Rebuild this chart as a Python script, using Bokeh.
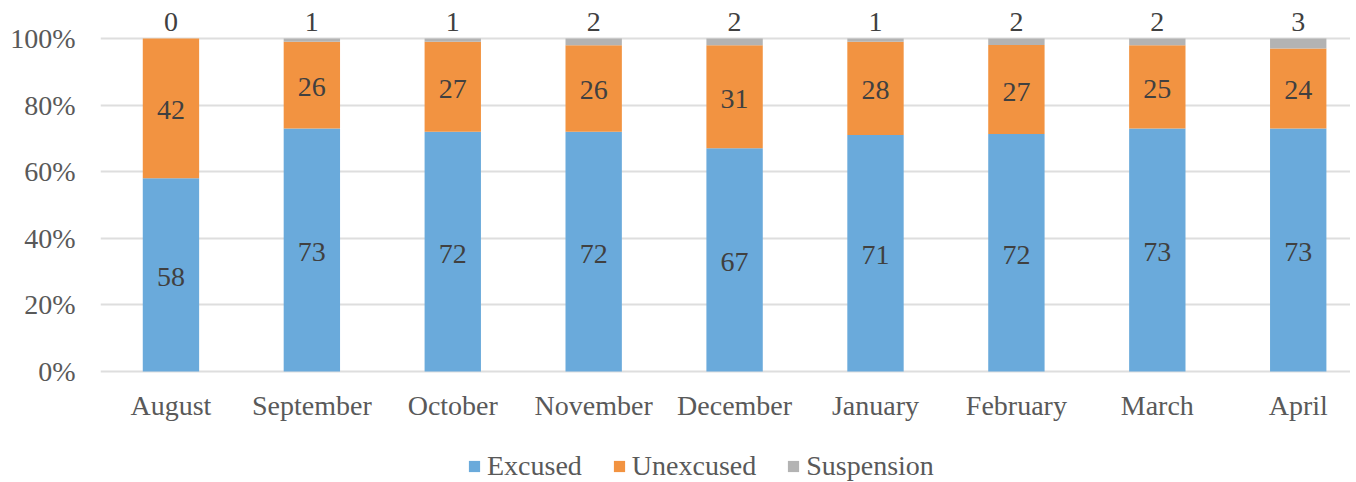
from bokeh.plotting import figure
from bokeh.models import ColumnDataSource, Range1d, FixedTicker, NumeralTickFormatter
from bokeh.core.properties import value
from bokeh.embed import file_html
from bokeh.resources import INLINE

months = ["August", "September", "October", "November", "December",
          "January", "February", "March", "April"]
excused = [58, 73, 72, 72, 67, 71, 72, 73, 73]
unexcused = [42, 26, 27, 26, 31, 28, 27, 25, 24]
suspension = [0, 1, 1, 2, 2, 1, 2, 2, 3]

BLUE = "#6aaadb"
ORANGE = "#f29341"
GRAY = "#b3b3b3"
FONT = "Liberation Serif"
FS = "28px"

xs = list(range(len(months)))
tot = [e + u + s for e, u, s in zip(excused, unexcused, suspension)]
e_top = [e / t for e, t in zip(excused, tot)]
u_top = [(e + u) / t for e, u, t in zip(excused, unexcused, tot)]
s_top = [1.0 for _ in tot]

src = ColumnDataSource(dict(
    x=xs, zero=[0] * len(xs), e_top=e_top, u_top=u_top, s_top=s_top,
    e_mid=[v / 2 for v in e_top],
    u_mid=[(a + b) / 2 for a, b in zip(e_top, u_top)],
    e_lab=[str(v) for v in excused],
    u_lab=[str(v) for v in unexcused],
    s_lab=[str(v) for v in suspension],
))

# frame runs from y=10 down to the bottom of the window; value 0 sits at y=371
p = figure(width=1350, frame_width=1250, frame_height=472,
           output_backend="svg",
           toolbar_location=None, x_range=Range1d(-0.5, 8.371),
           y_range=Range1d(-0.3333, 1.084),
           min_border_left=100, min_border_top=10, min_border_right=0,
           min_border_bottom=0)
p.outline_line_color = None
p.background_fill_color = "white"
p.border_fill_color = "white"

w = 0.4
p.vbar(x="x", bottom="zero", top="e_top", width=w, source=src,
       fill_color=BLUE, line_color=None, legend_label="Excused")
p.vbar(x="x", bottom="e_top", top="u_top", width=w, source=src,
       fill_color=ORANGE, line_color=None, legend_label="Unexcused")
p.vbar(x="x", bottom="u_top", top="s_top", width=w, source=src,
       fill_color=GRAY, line_color=None, legend_label="Suspension")

tk = dict(text_font=value(FONT), text_font_size=FS, text_color="#404040",
          text_align="center", text_baseline="middle")
p.text(x="x", y="e_mid", text="e_lab", source=src, y_offset=2, **tk)
p.text(x="x", y="u_mid", text="u_lab", source=src, y_offset=2, **tk)
p.text(x="x", y="s_top", text="s_lab", source=src, y_offset=-16, **tk)

p.xaxis.ticker = FixedTicker(ticks=xs)
p.xaxis.major_label_overrides = {i: m for i, m in zip(xs, months)}
p.xaxis.fixed_location = 0
p.yaxis.ticker = FixedTicker(ticks=[0, 0.2, 0.4, 0.6, 0.8, 1.0])
p.yaxis.formatter = NumeralTickFormatter(format="0%")
for ax in (p.xaxis, p.yaxis):
    ax.axis_line_color = None
    ax.major_tick_line_color = None
    ax.minor_tick_line_color = None
    ax.major_tick_out = 0
    ax.major_tick_in = 0
    ax.major_label_text_font = FONT
    ax.major_label_text_font_size = FS
    ax.major_label_text_color = "#595959"
p.xaxis.major_label_standoff = 18
p.yaxis.major_label_standoff = 25

p.xgrid.grid_line_color = None
p.ygrid.grid_line_color = "#dedede"
p.ygrid.grid_line_width = 2

lg = p.legend[0]
lg.orientation = "horizontal"
lg.location = (367, 0)
lg.padding = 0
lg.margin = 0
lg.spacing = 30
lg.glyph_width = 14
lg.glyph_height = 14
lg.label_standoff = 6
lg.border_line_color = None
lg.background_fill_alpha = 0
lg.label_text_font = FONT
lg.label_text_font_size = FS
lg.label_text_color = "#595959"

open("out.html", "w").write(file_html(p, INLINE))
